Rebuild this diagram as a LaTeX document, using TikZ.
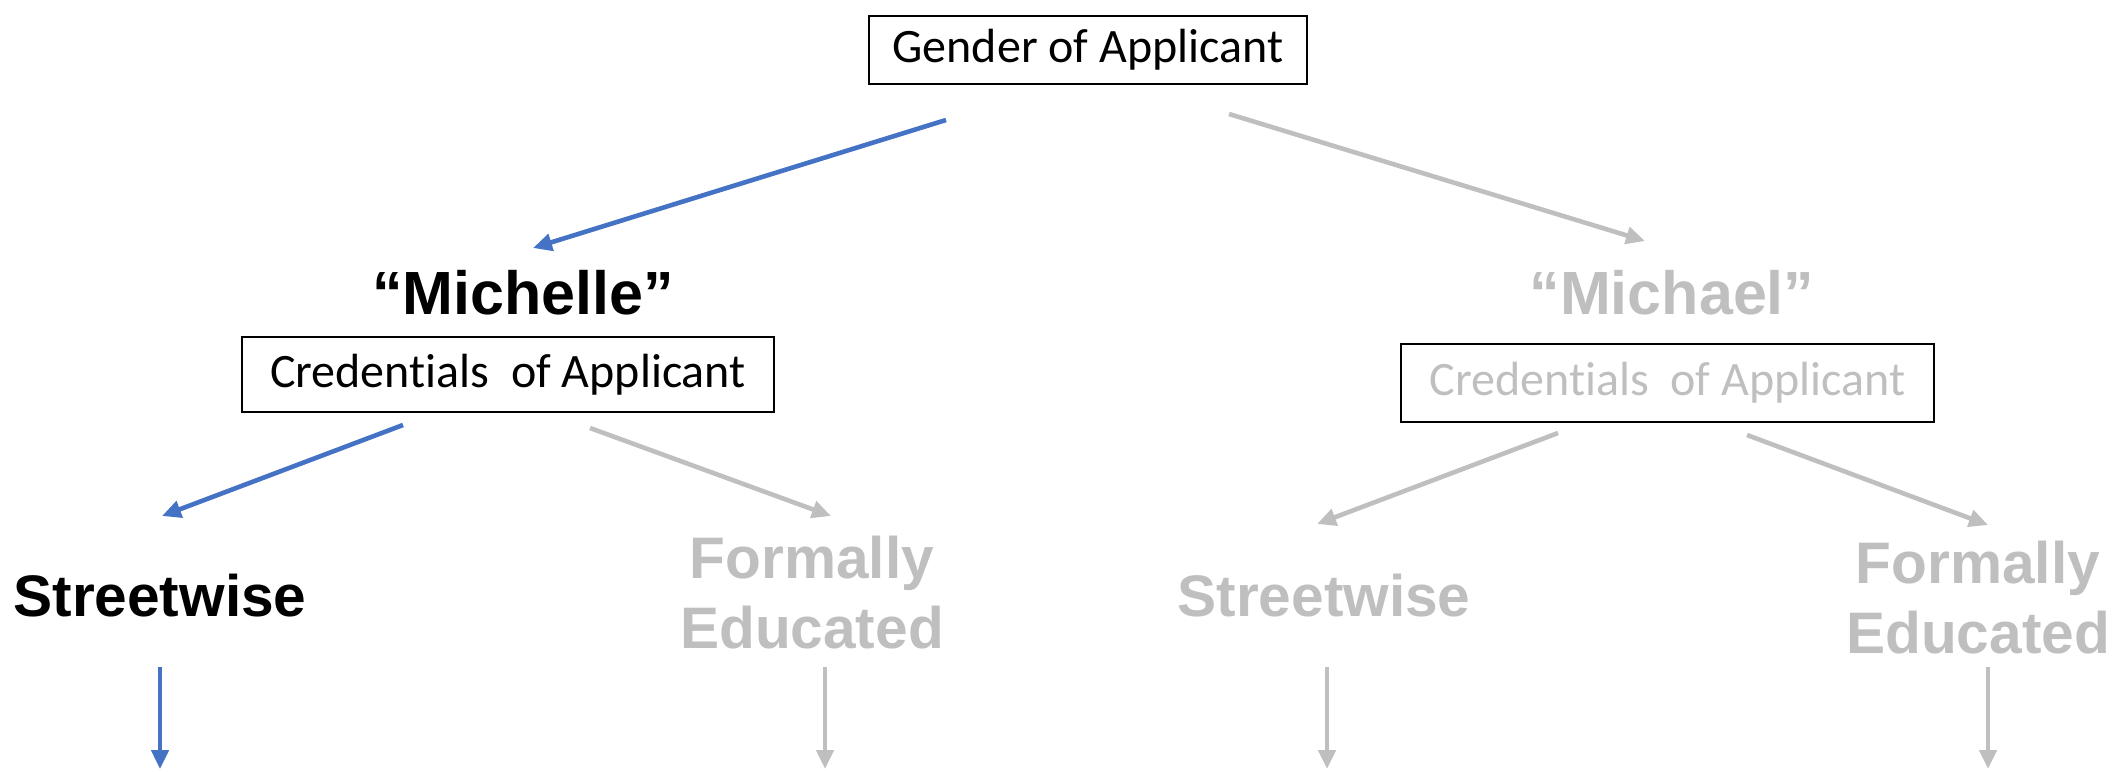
\documentclass[tikz,border=0pt]{standalone}
\usepackage{fontspec}
\setmainfont{Carlito}[Ligatures=NoCommon]
\newfontfamily\arialfont{Liberation Sans}
\usetikzlibrary{arrows.meta}
\definecolor{offblue}{HTML}{4472C4}
\definecolor{lgray}{HTML}{BFBFBF}
\tikzset{
  boxnode/.style={draw=black, line width=1pt, rectangle, inner sep=0pt,
    font=\fontsize{24pt}{28pt}\selectfont},
  biglabel/.style={font=\arialfont\bfseries\fontsize{30.5pt}{35pt}\selectfont,
    inner sep=0pt, align=center},
  leaflabel/.style={font=\arialfont\bfseries\fontsize{29.3pt}{35pt}\selectfont,
    inner sep=0pt, align=center},
  conn/.style={line width=2.3pt, -{Triangle[length=9.5pt,width=8.5pt]}},
  active/.style={conn, draw=offblue},
  inactive/.style={conn, draw=lgray},
}
\begin{document}
\begin{tikzpicture}[x=0.5pt,y=-0.5pt]
\useasboundingbox (0,0) rectangle (2123,771);
% boxes
\node[boxnode, minimum width=219pt, minimum height=34pt] (gender) at (1088,50) {Gender of Applicant};
\node[boxnode, minimum width=266pt, minimum height=37.5pt] (credL) at (508,374.5) {Credentials\ \ of Applicant};
\node[boxnode, minimum width=266.5pt, minimum height=39pt, text=lgray] (credR) at (1667.5,383) {Credentials\ \ of Applicant};
% labels
\node[biglabel, anchor=base] (michelle) at (523,314) {“Michelle”};
\node[biglabel, anchor=base, text=lgray] (michael) at (1672,314) {“Michael”};
\node[leaflabel, anchor=base] (streetL) at (160,616) {Streetwise};
\node[leaflabel, text=lgray] (formalL) at (812,593) {Formally\\Educated};
\node[leaflabel, anchor=base, text=lgray] (streetR) at (1324,616) {Streetwise};
\node[leaflabel, text=lgray] (formalR) at (1978,598) {Formally\\Educated};
% connector end points
\coordinate (g1) at (946,120);   \coordinate (m1) at (533,248);
\coordinate (g2) at (1229,114);  \coordinate (m2) at (1645,241);
\coordinate (cl1) at (403,425);  \coordinate (sl1) at (162,516);
\coordinate (cl2) at (590,428);  \coordinate (fl1) at (831,516);
\coordinate (cr1) at (1558,433); \coordinate (sr1) at (1317,524);
\coordinate (cr2) at (1747,435); \coordinate (fr1) at (1988,525);
\coordinate (sl2) at (160,667);  \coordinate (sl3) at (160,769);
\coordinate (fl2) at (825,667);  \coordinate (fl3) at (825,769);
\coordinate (sr2) at (1327,667); \coordinate (sr3) at (1327,769);
\coordinate (fr2) at (1988,667); \coordinate (fr3) at (1988,769);
% connectors
\draw[active] (g1) -- (m1);
\draw[inactive] (g2) -- (m2);
\draw[active] (cl1) -- (sl1);
\draw[inactive] (cl2) -- (fl1);
\draw[inactive] (cr1) -- (sr1);
\draw[inactive] (cr2) -- (fr1);
\draw[active] (sl2) -- (sl3);
\draw[inactive] (fl2) -- (fl3);
\draw[inactive] (sr2) -- (sr3);
\draw[inactive] (fr2) -- (fr3);
\end{tikzpicture}
\end{document}
